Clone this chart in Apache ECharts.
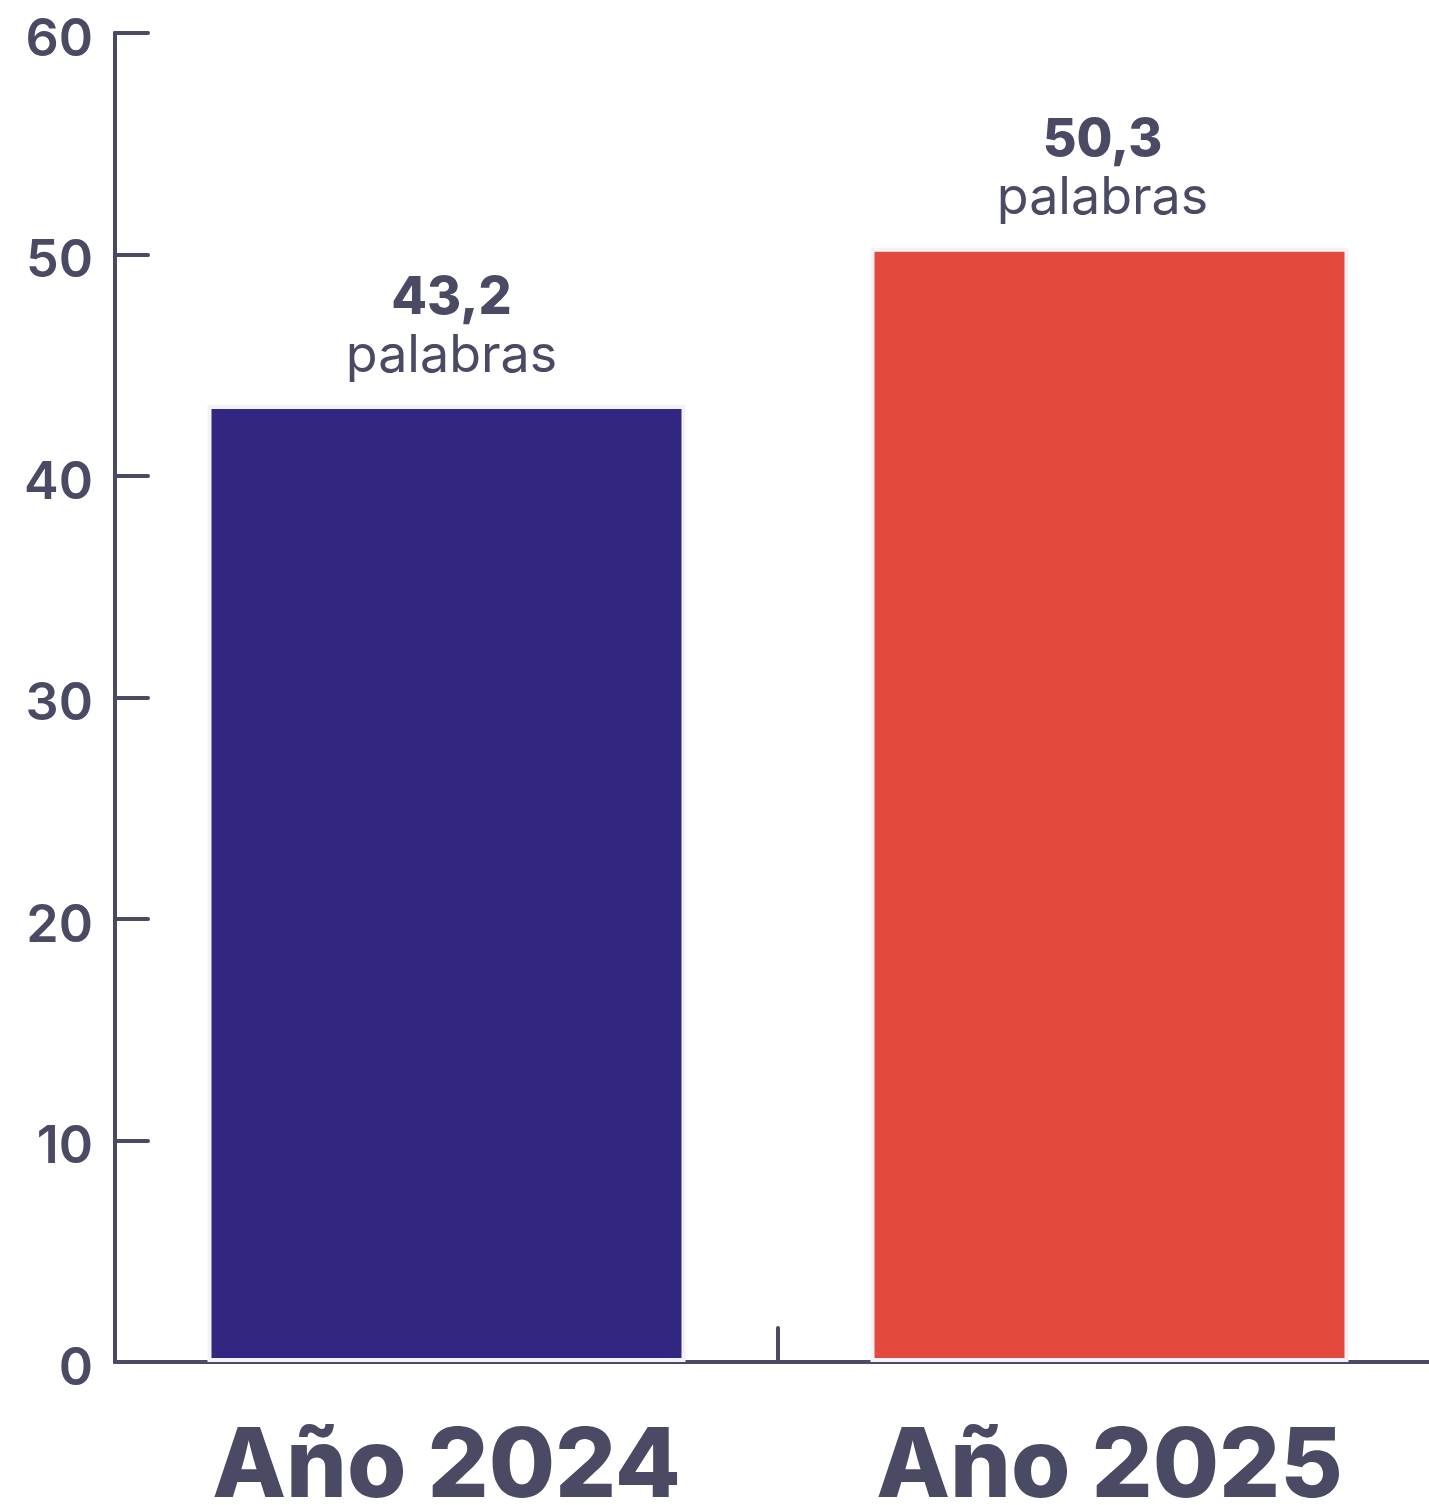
<!DOCTYPE html>
<html>
<head>
<meta charset="utf-8">
<script src="https://cdn.jsdelivr.net/npm/echarts@6/dist/echarts.min.js"></script>
<style>
html,body{margin:0;padding:0;background:#fff;}
#c{width:1429px;height:1505px;}
</style>
</head>
<body>
<div id="c"></div>
<script>
const categories = ['Año 2024', 'Año 2025'];
const values = [43.2, 50.3];
const valueLabels = ['43,2', '50,3'];
const unitLabel = 'palabras';
const barColors = ['#312781', '#e4493d'];
const yTicks = { min: 0, max: 60, interval: 10 };

const ink = '#4a4a65';
const labelShift = [[5, 0], [-7, 0]];
const chart = echarts.init(document.getElementById('c'));
chart.setOption({
  animation: false,
  backgroundColor: '#ffffff',
  grid: { left: 115, right: -12, top: 33, bottom: 143, containLabel: false, outerBoundsMode: 'none' },
  xAxis: {
    type: 'category',
    data: categories,
    boundaryGap: true,
    axisLine: { show: true, lineStyle: { color: ink, width: 4 } },
    axisTick: { show: true, inside: true, length: 34, lineStyle: { color: ink, width: 4, cap: 'round' } },
    axisLabel: { color: ink, fontFamily: 'Inter', fontWeight: 800, fontSize: 96, margin: 58, interval: 0 },
    splitLine: { show: false }
  },
  yAxis: {
    type: 'value',
    min: yTicks.min, max: yTicks.max, interval: yTicks.interval,
    axisLine: { show: true, lineStyle: { color: ink, width: 4, cap: 'round' } },
    axisTick: { show: true, inside: true, length: 33, lineStyle: { color: ink, width: 4, cap: 'round' } },
    axisLabel: {
      color: ink, margin: 22,
      formatter: v => '{a|' + v + '}',
      rich: { a: { fontFamily: 'Inter', fontWeight: 600, fontSize: 52, color: ink, lineHeight: 52, padding: [14, 0, 0, 0] } }
    },
    splitLine: { show: false }
  },
  series: [{
    type: 'bar',
    barWidth: 478,
    data: values.map((v, i) => ({
      value: v,
      itemStyle: { color: barColors[i], borderColor: '#f3f3f7', borderWidth: 4 },
      label: { offset: labelShift[i], formatter: '{v|' + valueLabels[i] + '}\n{u|' + unitLabel + '}' }
    })),
    label: {
      show: true,
      position: 'top',
      distance: 20,
      rich: {
        v: { fontFamily: 'Inter', fontWeight: 800, fontSize: 52, color: ink, lineHeight: 58, align: 'center' },
        u: { fontFamily: 'Inter', fontWeight: 400, fontSize: 52, color: ink, lineHeight: 58, align: 'center' }
      }
    }
  }]
});
</script>
</body>
</html>
